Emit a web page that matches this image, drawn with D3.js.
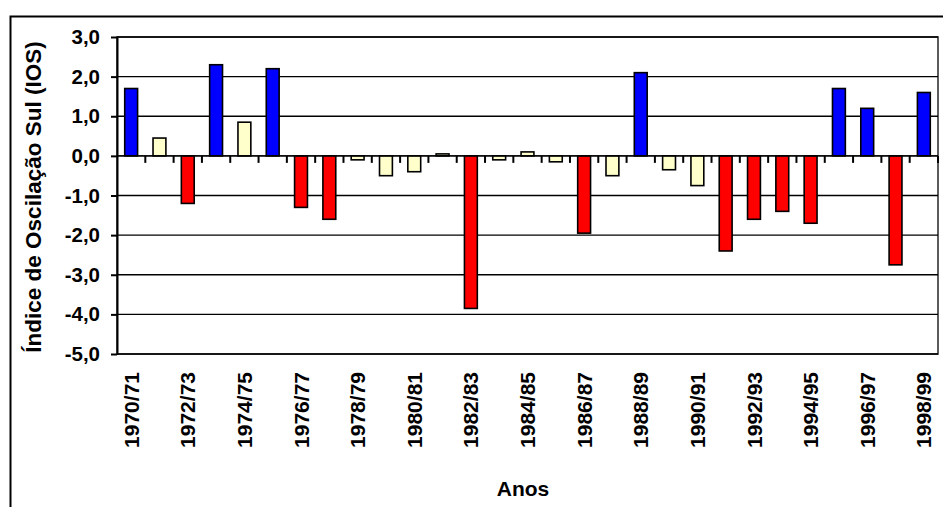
<!DOCTYPE html>
<html>
<head>
<meta charset="utf-8">
<script src="https://cdn.jsdelivr.net/npm/d3@7"></script>
<style>
  html, body { margin: 0; padding: 0; background: #fff; }
  svg { display: block; }
  text { font-family: Arial, "Liberation Sans", sans-serif; font-weight: bold; fill: #000; }
</style>
</head>
<body>
<svg id="chart" width="943" height="507"></svg>
<script>
const categories = ["1970/71","1971/72","1972/73","1973/74","1974/75","1975/76","1976/77","1977/78","1978/79","1979/80",
  "1980/81","1981/82","1982/83","1983/84","1984/85","1985/86","1986/87","1987/88","1988/89","1989/90",
  "1990/91","1991/92","1992/93","1993/94","1994/95","1995/96","1996/97","1997/98","1998/99"];
const iosValues = [1.7, 0.45, -1.2, 2.3, 0.85, 2.2, -1.3, -1.6, -0.1, -0.5,
  -0.4, 0.05, -3.85, -0.1, 0.1, -0.15, -1.95, -0.5, 2.1, -0.35,
  -0.75, -2.4, -1.6, -1.4, -1.7, 1.7, 1.2, -2.75, 1.6];
const phase = ["LN","N","EN","LN","N","LN","EN","EN","N","N",
  "N","N","EN","N","N","N","EN","N","LN","N",
  "N","EN","EN","EN","EN","LN","LN","EN","LN"];
const yTickValues = [3, 2, 1, 0, -1, -2, -3, -4, -5];
const yTickLabels = ["3,0","2,0","1,0","0,0","-1,0","-2,0","-3,0","-4,0","-5,0"];
const xLabelCategories = categories.filter((d, i) => i % 2 === 0);
const phaseColors = { LN: "#0000FF", EN: "#FF0000", N: "#FFFFCC" };

const svg = d3.select("#chart");
const plot = { left: 117, right: 938, top: 37, bottom: 354 };

const x = d3.scaleBand().domain(categories).range([plot.left, plot.right])
  .paddingInner(0.5455).paddingOuter(0.2727);
const xb = d3.scaleBand().domain(categories).range([plot.left, plot.right]).padding(0);
const y = d3.scaleLinear().domain([-5, 3]).range([plot.bottom, plot.top]);

// outer frame (clipped by the window)
svg.append("rect").attr("x", 10.5).attr("y", 16.5).attr("width", 1000).attr("height", 1000)
  .attr("fill", "none").attr("stroke", "#000").attr("stroke-width", 2);

// plot area border
svg.append("rect").attr("x", plot.left).attr("y", plot.top)
  .attr("width", plot.right - plot.left).attr("height", plot.bottom - plot.top)
  .attr("fill", "none").attr("stroke", "#333").attr("stroke-width", 1.6);

// gridlines
svg.append("g").selectAll("line").data(yTickValues).join("line")
  .attr("x1", plot.left).attr("x2", plot.right)
  .attr("y1", d => y(d)).attr("y2", d => y(d))
  .attr("stroke", "#000").attr("stroke-width", 1.4);

// y axis
const yAxis = d3.axisLeft(y).tickValues(yTickValues)
  .tickFormat((d, i) => yTickLabels[i]).tickSize(6).tickSizeOuter(0).tickPadding(11);
const gy = svg.append("g").attr("transform", `translate(${plot.left},0)`).call(yAxis);
gy.select(".domain").attr("stroke", "#000").attr("stroke-width", 2);
gy.selectAll(".tick line").attr("stroke", "#000").attr("stroke-width", 2);
gy.selectAll(".tick text").style("font-size", "20.5px").style("font-family", "Arial, 'Liberation Sans', sans-serif").style("font-weight", "bold");

// category tick marks at zero line (boundaries)
const boundaries = categories.map(c => xb(c)).concat([plot.right]).slice(1);
svg.append("g").selectAll("line").data(boundaries).join("line")
  .attr("x1", d => d).attr("x2", d => d)
  .attr("y1", y(0)).attr("y2", y(0) + 7)
  .attr("stroke", "#000").attr("stroke-width", 2);

// bars
svg.append("g").selectAll("rect").data(categories).join("rect")
  .attr("x", d => x(d))
  .attr("width", x.bandwidth())
  .attr("y", (d, i) => y(Math.max(0, iosValues[i])))
  .attr("height", (d, i) => Math.abs(y(iosValues[i]) - y(0)))
  .attr("fill", (d, i) => phaseColors[phase[i]])
  .attr("stroke", "#000").attr("stroke-width", 1.6);

// zero line
svg.append("line").attr("x1", plot.left).attr("x2", plot.right)
  .attr("y1", y(0)).attr("y2", y(0)).attr("stroke", "#000").attr("stroke-width", 1.4);

// x labels (rotated)
svg.append("g").selectAll("text").data(xLabelCategories).join("text")
  .attr("transform", d => `translate(${x(d) + x.bandwidth() / 2},372) rotate(-90)`)
  .attr("text-anchor", "end").attr("dy", "0.36em")
  .style("font-size", "21px")
  .text(d => d);

// axis titles
svg.append("text").attr("x", 523).attr("y", 496).attr("text-anchor", "middle")
  .style("font-size", "21px").text("Anos");
svg.append("text").attr("transform", `translate(33,197) rotate(-90)`)
  .attr("text-anchor", "middle").attr("dy", "0.36em")
  .style("font-size", "22.5px").text("Índice de Oscilação Sul (IOS)");
</script>
</body>
</html>
